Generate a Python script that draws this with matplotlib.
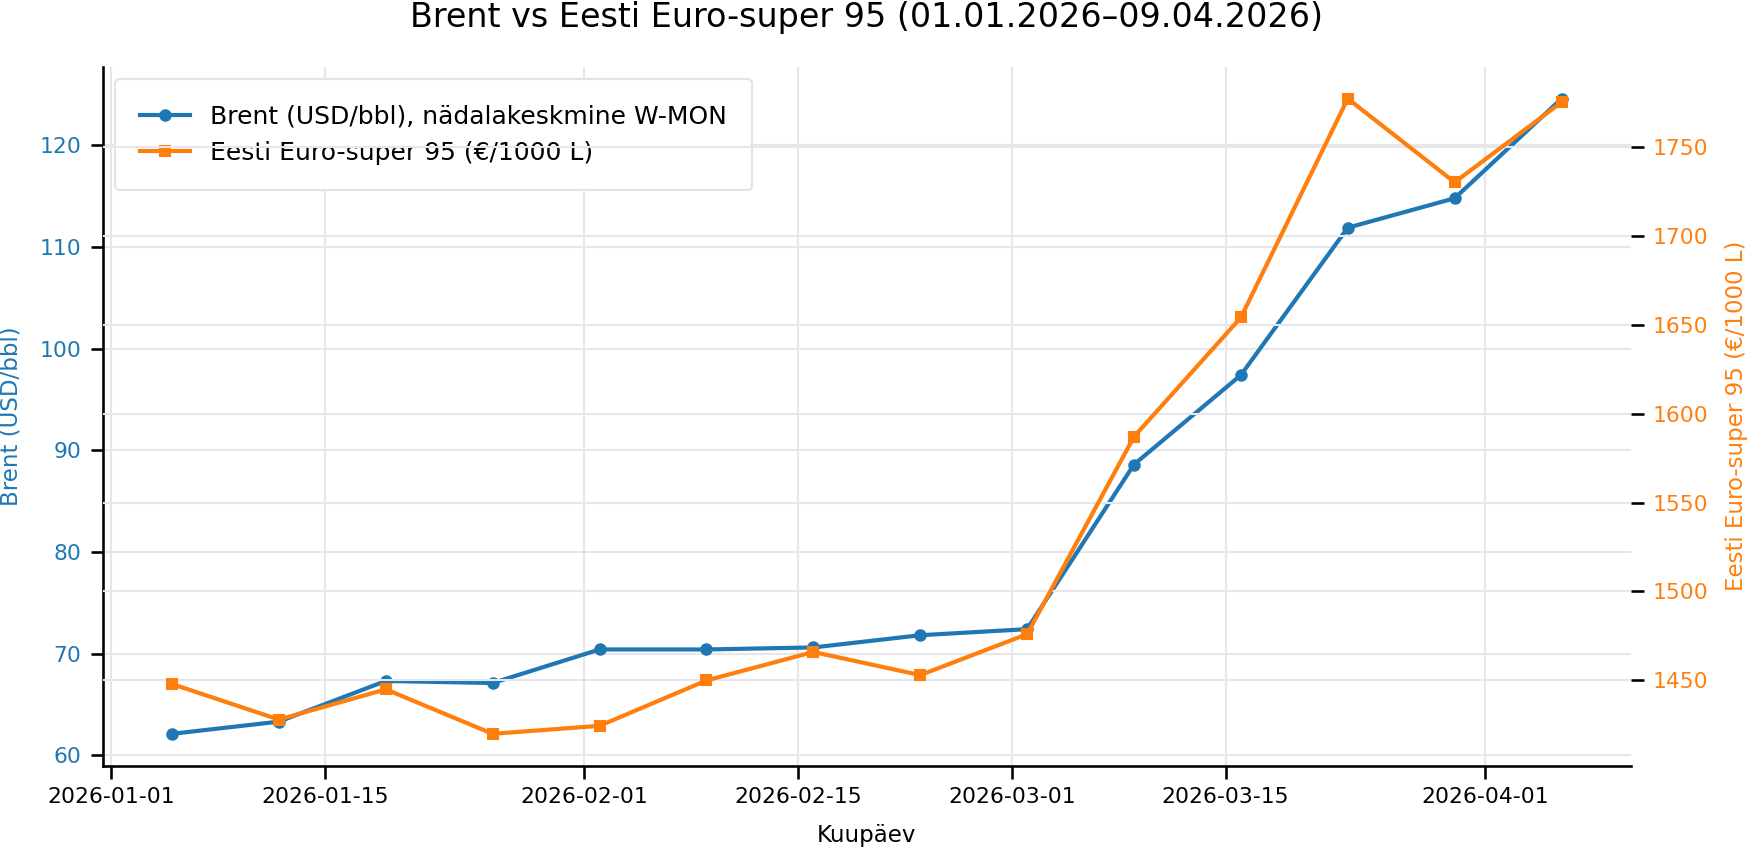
import pandas as pd
import matplotlib
matplotlib.use('Agg')
import matplotlib.pyplot as plt


# data (weekly, W-MON)
dates  = ['2026-01-05', '2026-01-12', '2026-01-19', '2026-01-26',
          '2026-02-02', '2026-02-09', '2026-02-16', '2026-02-23',
          '2026-03-02', '2026-03-09', '2026-03-16', '2026-03-23',
          '2026-03-30', '2026-04-06']
brent  = [62.1, 63.3, 67.3, 67.1, 70.4, 70.4, 70.6, 71.8,
          72.4, 88.6, 97.4, 111.9, 114.8, 124.6]
euro95 = [1448, 1428, 1445, 1420, 1424.5, 1450, 1466, 1453,
          1476, 1587, 1654, 1777, 1730, 1775]

x = pd.to_datetime(dates)

c_blue   = '#1f77b4'
c_orange = '#ff7f0e'
c_grid   = '#e6e6eb'

plt.rcParams['font.family'] = ['DejaVu Sans']

fig = plt.figure(figsize=(1747 / 150, 848 / 150), dpi=150)
ax1 = fig.add_axes([0.0587, 0.0972, 0.9336 - 0.0587, 0.9211 - 0.0972])
ax2 = ax1.twinx()

l1, = ax1.plot(x, brent, color=c_blue, lw=2, marker='o', ms=5,
               label='Brent (USD/bbl), nädalakeskmine W-MON')
l2, = ax2.plot(x, euro95, color=c_orange, lw=2, marker='s', ms=5,
               label='Eesti Euro-super 95 (€/1000 L)')

# grids: x + left y on ax1, right y on ax2 (drawn on top)
ax1.grid(True, color=c_grid, lw=1.0)
ax2.grid(True, axis='y', color=c_grid, lw=1.0)
ax1.set_axisbelow(True)

for ax in (ax1, ax2):
  ax.spines['top'].set_visible(False)
ax2.spines['right'].set_visible(False)
ax2.spines['left'].set_visible(False)
ax2.spines['bottom'].set_visible(False)
ax1.spines['right'].set_visible(False)
for s in ('left', 'bottom'):
  ax1.spines[s].set_linewidth(1.25)

ax1.tick_params(axis='both', length=6, width=1.25, pad=4.3, labelsize=10.5)
ax2.tick_params(axis='y', length=6, width=1.25, pad=4.3, labelsize=10.5)
ax1.tick_params(axis='y', labelcolor=c_blue)
ax2.tick_params(axis='y', labelcolor=c_orange)

ax1.set_ylabel('Brent (USD/bbl)', color=c_blue, fontsize=11, labelpad=8)
ax2.set_ylabel('Eesti Euro-super 95 (€/1000 L)', color=c_orange, fontsize=11, labelpad=8)
ax1.set_xlabel('Kuupäev', fontsize=11, labelpad=8)

ax1.set_title('Brent vs Eesti Euro-super 95 (01.01.2026–09.04.2026)',
              fontsize=16, pad=19)

leg = ax1.legend(handles=[l1, l2], loc='upper left', fontsize=12,
                 frameon=True, fancybox=True, framealpha=1.0,
                 borderpad=1.0)
leg.get_frame().set_edgecolor('#e2e2e8')
leg.get_frame().set_linewidth(1.0)

fig.savefig('out.png', dpi=150)
